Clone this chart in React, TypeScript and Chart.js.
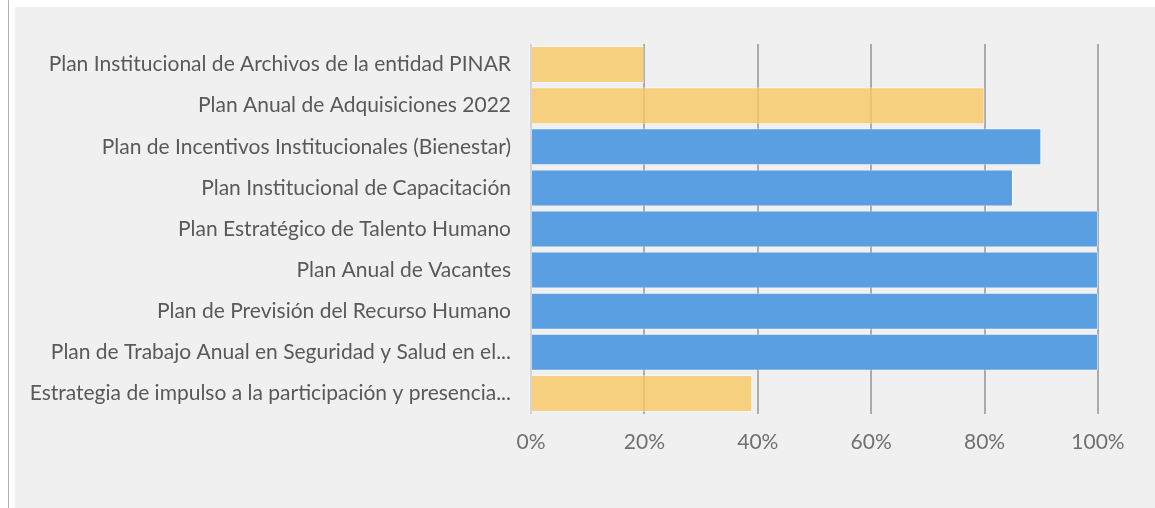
import React, { useEffect, useRef } from "react";
import { Chart, registerables } from "chart.js";

Chart.register(...registerables);

const categories = [
  "Plan Institucional de Archivos de la entidad PINAR",
  "Plan Anual de Adquisiciones 2022",
  "Plan de Incentivos Institucionales (Bienestar)",
  "Plan Institucional de Capacitación",
  "Plan Estratégico de Talento Humano",
  "Plan Anual de Vacantes",
  "Plan de Previsión del Recurso Humano",
  "Plan de Trabajo Anual en Seguridad y Salud en el...",
  "Estrategia de impulso a la participación y presencia...",
];
const values = [20, 80, 90, 85, 100, 100, 100, 100, 39];
const groups = ["y", "y", "b", "b", "b", "b", "b", "b", "y"];
const tickValues = [0, 20, 40, 60, 80, 100];

const YELLOW = "rgba(247,200,100,0.82)";
const BLUE = "#5A9FE2";

export default function App() {
  const ref = useRef<HTMLCanvasElement>(null);
  useEffect(() => {
    const ctx = ref.current!;
    const chart = new Chart(ctx, {
      type: "bar",
      data: {
        labels: categories,
        datasets: [
          {
            data: values,
            backgroundColor: groups.map((g) => (g === "y" ? YELLOW : BLUE)),
            borderColor: "rgba(255,255,255,0.45)",
            borderWidth: 1,
            barPercentage: 0.9,
            categoryPercentage: 1,
          },
        ],
      },
      options: {
        indexAxis: "y",
        animation: false,
        responsive: false,
        maintainAspectRatio: false,
        layout: { padding: { top: 37, right: 57, bottom: 50, left: 0 } },
        plugins: { legend: { display: false }, tooltip: { enabled: false } },
        scales: {
          x: {
            min: 0,
            max: 100,
            afterBuildTicks: (axis: any) => {
              axis.ticks = tickValues.map((v) => ({ value: v }));
            },
            afterFit: (axis: any) => {
              axis.height = 44;
            },
            ticks: {
              callback: (v: any) => v + "%",
              color: "#707070",
              font: { family: "Lato", size: 21 },
              padding: 16,
            },
            grid: {
              color: (c: any) => (c.tick && c.tick.value === 0 ? "#d4d4d4" : "#ababab"),
              lineWidth: 2,
              drawTicks: false,
            },
            border: { display: false },
          },
          y: {
            afterFit: (axis: any) => {
              axis.width = 516;
            },
            ticks: {
              color: "#595959",
              font: { family: "Lato", size: 21 },
              padding: 20,
            },
            grid: { display: false, drawTicks: false },
            border: { display: false },
          },
        },
      },
    });
    return () => chart.destroy();
  }, []);
  return (
    <div style={{ position: "fixed", left: 0, top: 0, width: 1155, height: 508, background: "#fff" }}>
      <div style={{ position: "absolute", left: 8, top: 0, width: 1, height: 508, background: "#b0b0b0" }} />
      <div style={{ position: "absolute", left: 15, top: 7, width: 1140, height: 501, background: "#f0f0f0" }}>
        <canvas ref={ref} width={1140} height={501} style={{ display: "block" }} />
      </div>
    </div>
  );
}
